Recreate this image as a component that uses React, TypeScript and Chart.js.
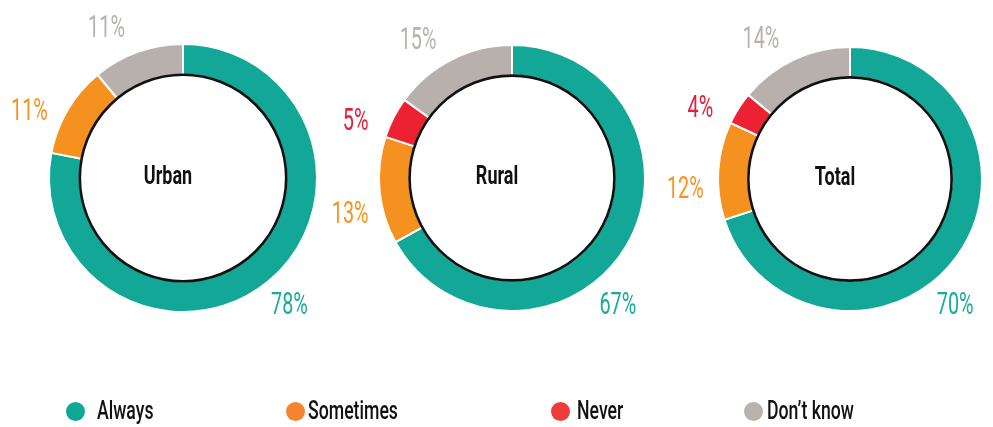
import React, { useEffect, useRef } from "react";
import { Chart, registerables } from "chart.js";

Chart.register(...registerables);

const categories = ["Always", "Sometimes", "Never", "Don\u2019t know"];
const groups = ["Urban", "Rural", "Total"];
const urbanValues = [78, 11, 0, 11];
const ruralValues = [67, 13, 5, 15];
const totalValues = [70, 12, 4, 14];
const groupValues = [urbanValues, ruralValues, totalValues];

const segmentColors = ["#12a797", "#f5911f", "#ec2233", "#b8b0ac"];
const labelColors = ["#1aab9b", "#f7941d", "#e3203b", "#b9b1ad"];
const legendColors = ["#0fa898", "#f58430", "#ee3b3b", "#bab2ad"];

// layout of each ring: center x, center y, outer radius
const ringLayout = [
  { cx: 183, cy: 178, r: 135 },
  { cx: 512, cy: 178, r: 134 },
  { cx: 850, cy: 179, r: 133 },
];
const legendLayout = [
  { dot: 75, text: 97 },
  { dot: 295, text: 308 },
  { dot: 560, text: 577 },
  { dot: 753, text: 767 },
];

const W = 993;
const H = 427;

function drawCondensed(
  ctx: CanvasRenderingContext2D,
  text: string,
  x: number,
  y: number,
  font: string,
  color: string,
  sx: number
) {
  ctx.save();
  ctx.translate(x, y);
  ctx.scale(sx, 1);
  ctx.font = font;
  ctx.fillStyle = color;
  ctx.textAlign = "center";
  ctx.textBaseline = "middle";
  ctx.fillText(text, 0, 0);
  ctx.restore();
}

const ringPlugin = {
  id: "ringDecor",
  afterDatasetsDraw(chart: any, _args: any, opts: any) {
    const ctx: CanvasRenderingContext2D = chart.ctx;
    const meta = chart.getDatasetMeta(0);
    const values: number[] = chart.data.datasets[0].data;
    const first = meta.data[0];
    const { x, y, innerRadius, outerRadius } = first.getProps(
      ["x", "y", "innerRadius", "outerRadius"],
      true
    );
    ctx.save();
    ctx.beginPath();
    ctx.arc(x, y, innerRadius, 0, Math.PI * 2);
    ctx.lineWidth = 2.6;
    ctx.strokeStyle = "#111111";
    ctx.stroke();
    ctx.restore();

    drawCondensed(ctx, opts.title, x - 15, y, "bold 25px Roboto", "#111111", 0.72);

    meta.data.forEach((arc: any, i: number) => {
      const v = values[i];
      if (!v) return;
      const { startAngle, endAngle } = arc.getProps(["startAngle", "endAngle"], true);
      const span = endAngle - startAngle;
      const mid = (startAngle + endAngle) / 2;
      const a =
        span > Math.PI
          ? Math.min(startAngle + 0.39 * Math.PI * 2, endAngle)
          : mid - 0.13;
      const R = outerRadius + 33;
      drawCondensed(
        ctx,
        v + "%",
        x + R * Math.cos(a),
        y + R * Math.sin(a),
        "31px Roboto",
        labelColors[i],
        0.64
      );
    });
  },
};

function Ring({ index }: { index: number }) {
  const ref = useRef<HTMLCanvasElement | null>(null);
  useEffect(() => {
    const { cx, cy, r } = ringLayout[index];
    const chart = new Chart(ref.current as HTMLCanvasElement, {
      type: "doughnut",
      data: {
        labels: categories,
        datasets: [
          {
            data: groupValues[index],
            backgroundColor: segmentColors,
            borderColor: "#ffffff",
            borderWidth: 2,
            hoverOffset: 0,
          },
        ],
      },
      options: {
        responsive: false,
        animation: false,
        cutout: "77%",
        events: [],
        layout: {
          padding: {
            left: cx - r,
            top: cy - r,
            right: W - (cx + r),
            bottom: H - (cy + r),
          },
        },
        plugins: {
          legend: { display: false },
          tooltip: { enabled: false },
          ringDecor: { title: groups[index] },
        } as any,
      },
      plugins: [ringPlugin],
    });
    return () => chart.destroy();
  }, [index]);
  return (
    <canvas
      ref={ref}
      width={W}
      height={H}
      style={{ position: "absolute", left: 0, top: 0, width: W, height: H }}
    />
  );
}

export default function App() {
  return (
    <div
      style={{
        position: "fixed",
        left: 0,
        top: 0,
        width: W,
        height: H,
        background: "#ffffff",
        overflow: "hidden",
      }}
    >
      {groups.map((g, i) => (
        <Ring key={g} index={i} />
      ))}
      {categories.map((c, i) => (
        <div key={c}>
          <div
            style={{
              position: "absolute",
              left: legendLayout[i].dot - 9.5,
              top: 411 - 9.5,
              width: 19,
              height: 19,
              borderRadius: "50%",
              background: legendColors[i],
            }}
          />
          <div
            style={{
              position: "absolute",
              left: legendLayout[i].text,
              top: 396,
              height: 28,
              lineHeight: "28px",
              fontFamily: "Roboto",
              fontWeight: 500,
              fontSize: 26,
              color: "#111111",
              whiteSpace: "nowrap",
              transform: "scaleX(0.68)",
              transformOrigin: "left center",
            }}
          >
            {c}
          </div>
        </div>
      ))}
    </div>
  );
}
